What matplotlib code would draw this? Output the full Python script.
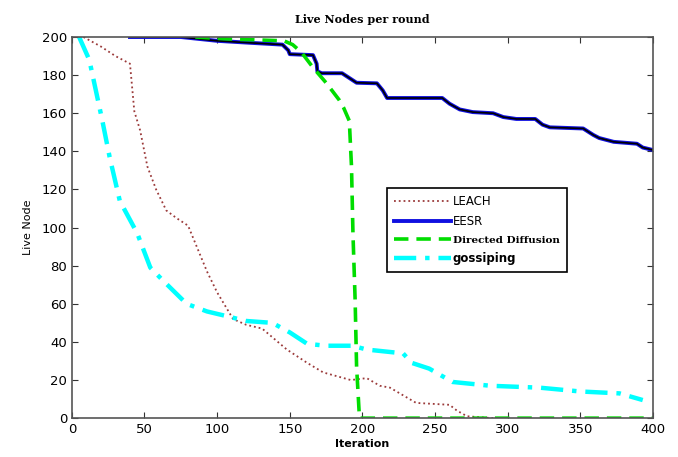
import matplotlib
matplotlib.use("Agg")
import matplotlib.pyplot as plt

# values
leach_x = [8, 20, 30, 40, 43, 47, 52, 58, 65, 72, 80, 93, 100, 111, 120, 131, 148,
           162, 173, 192, 203, 212, 219, 237, 260, 265, 272, 290]
leach_y = [200, 195, 190, 186, 161, 151, 132, 120, 109, 105, 101, 77, 66, 52, 49, 47, 36,
           29, 24, 20, 21, 17, 16, 8, 7, 4, 1, 0]

eesr_x = [40, 75, 100, 122, 145, 149, 150, 166, 168.5, 169, 172, 186, 191, 196, 210, 214, 217,
          255, 260, 267, 276, 290, 297, 306, 319, 324, 329, 352, 359, 363, 373, 389, 393, 400]
eesr_y = [200, 200, 198, 197, 196, 193, 191, 190.5, 186, 182, 181, 181, 178.5, 176, 175.7, 172, 168,
          168, 165, 162, 160.6, 160, 158, 157, 157, 154, 152.6, 152, 148.6, 147, 145, 144, 142, 140.7]

dd_x = [85, 107, 146, 152, 158, 166, 175, 184, 187, 191, 192.5, 193.5, 195, 196, 198, 400]
dd_y = [200, 199, 198, 196, 192, 184, 176, 167, 163, 156, 132, 97, 62, 27, 0, 0]

goss_x = [5, 12, 21, 26, 33, 45, 54, 63, 79, 93, 104, 120, 138, 150, 162, 175, 193,
          203, 228, 234, 246, 262, 288, 322, 350, 377, 393]
goss_y = [200, 188, 156, 137, 114, 97, 79, 72, 60, 56, 54, 51, 50, 45, 39, 38, 38,
          36, 34, 29, 26, 19, 17, 16, 14, 13, 9.5]

fig = plt.figure(figsize=(6.78, 4.57), dpi=100)
ax = fig.add_axes([0.106, 0.085, 0.857, 0.834])

ax.plot(leach_x, leach_y, linestyle=":", color="#9b3a3a", linewidth=1.3, label="LEACH")
ax.plot(eesr_x, eesr_y, color="#1010e0", linewidth=2.8, label="EESR")
ax.plot(eesr_x, eesr_y, color="black", linewidth=1.2)
ax.plot(dd_x, dd_y, linestyle=(0, (4, 2.2)), color="#00dd00", linewidth=2.6,
        label="Directed Diffusion")
ax.plot(goss_x, goss_y, linestyle=(0, (5, 2, 1, 2)), color="#00ffff", linewidth=3.2,
        label="gossiping")

ax.set_xlim(0, 400)
ax.set_ylim(0, 200)
ax.set_xticks(range(0, 401, 50))
ax.set_yticks(range(0, 201, 20))
ax.tick_params(direction="in", top=True, right=True, labelsize=9.5, length=4, color="#333333")
for s in ax.spines.values():
    s.set_color("#555555")
    s.set_linewidth(1.2)

ax.set_title("Live Nodes per round", fontsize=8, family="DejaVu Serif", fontweight="bold", pad=10)
ax.set_xlabel("Iteration", fontsize=8, fontweight="bold", labelpad=2)
ax.set_ylabel("Live Node", fontsize=8, labelpad=6)

leg = ax.legend(loc="upper left", bbox_to_anchor=(0.532, 0.62), fontsize=8.5,
                fancybox=False, framealpha=1, edgecolor="black", borderpad=0.6,
                labelspacing=0.6, handlelength=4.8, handletextpad=0.2)
leg.get_frame().set_linewidth(1.2)
for t in leg.get_texts():
    if t.get_text() == "Directed Diffusion":
        t.set_family("DejaVu Serif")
        t.set_fontsize(7.5)
        t.set_fontweight("bold")
    if t.get_text() == "gossiping":
        t.set_fontweight("bold")

fig.savefig("out.png", dpi=100)
